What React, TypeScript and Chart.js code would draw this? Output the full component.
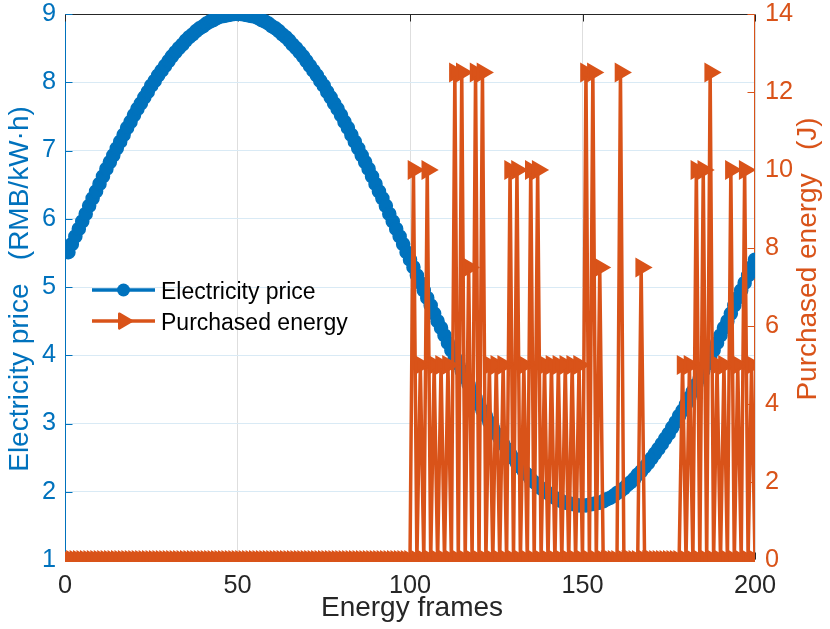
import React, { useEffect, useRef } from "react";
import { Chart, registerables } from "chart.js";

Chart.register(...registerables);

const BLUE = "#0072BD";
const ORANGE = "#D95319";
const DARK = "#262626";
const FONT = "'Liberation Sans', Arial, Helvetica, sans-serif";

// x categories: energy frame index 1..200
const frames: number[] = Array.from({ length: 200 }, (_, i) => i + 1);

const electricityPrice: number[] = [
  5.51, 5.63, 5.74, 5.85, 5.96, 6.07, 6.19, 6.30, 6.40, 6.51,
  6.62, 6.73, 6.83, 6.93, 7.03, 7.13, 7.23, 7.33, 7.42, 7.52,
  7.61, 7.69, 7.78, 7.86, 7.95, 8.02, 8.10, 8.17, 8.24, 8.31,
  8.38, 8.44, 8.50, 8.55, 8.61, 8.66, 8.70, 8.75, 8.79, 8.82,
  8.86, 8.89, 8.91, 8.94, 8.96, 8.97, 8.98, 8.99, 9.00, 9.00,
  9.00, 8.99, 8.98, 8.97, 8.96, 8.94, 8.91, 8.89, 8.86, 8.82,
  8.79, 8.75, 8.70, 8.66, 8.61, 8.55, 8.50, 8.44, 8.38, 8.31,
  8.24, 8.17, 8.10, 8.02, 7.95, 7.86, 7.78, 7.69, 7.61, 7.52,
  7.42, 7.33, 7.23, 7.13, 7.03, 6.93, 6.83, 6.73, 6.62, 6.51,
  6.40, 6.30, 6.19, 6.07, 5.96, 5.85, 5.74, 5.63, 5.51, 5.40,
  5.29, 5.17, 5.06, 4.95, 4.84, 4.73, 4.61, 4.50, 4.40, 4.29,
  4.18, 4.07, 3.97, 3.87, 3.77, 3.67, 3.57, 3.47, 3.38, 3.28,
  3.19, 3.11, 3.02, 2.94, 2.85, 2.78, 2.70, 2.63, 2.56, 2.49,
  2.42, 2.36, 2.30, 2.25, 2.19, 2.14, 2.10, 2.05, 2.01, 1.98,
  1.94, 1.91, 1.89, 1.86, 1.84, 1.83, 1.82, 1.81, 1.80, 1.80,
  1.80, 1.81, 1.82, 1.83, 1.84, 1.86, 1.89, 1.91, 1.94, 1.98,
  2.01, 2.05, 2.10, 2.14, 2.19, 2.25, 2.30, 2.36, 2.42, 2.49,
  2.56, 2.63, 2.70, 2.78, 2.85, 2.94, 3.02, 3.11, 3.19, 3.28,
  3.38, 3.47, 3.57, 3.67, 3.77, 3.87, 3.97, 4.07, 4.18, 4.29,
  4.40, 4.50, 4.61, 4.73, 4.84, 4.95, 5.06, 5.17, 5.29, 5.40,
];

const purchasedEnergy: number[] = [
  0, 0, 0, 0, 0, 0, 0, 0, 0, 0,
  0, 0, 0, 0, 0, 0, 0, 0, 0, 0,
  0, 0, 0, 0, 0, 0, 0, 0, 0, 0,
  0, 0, 0, 0, 0, 0, 0, 0, 0, 0,
  0, 0, 0, 0, 0, 0, 0, 0, 0, 0,
  0, 0, 0, 0, 0, 0, 0, 0, 0, 0,
  0, 0, 0, 0, 0, 0, 0, 0, 0, 0,
  0, 0, 0, 0, 0, 0, 0, 0, 0, 0,
  0, 0, 0, 0, 0, 0, 0, 0, 0, 0,
  0, 0, 0, 0, 0, 0, 0, 0, 0, 0,
  10, 0, 5, 0, 10, 0, 5, 0, 5, 0,
  5, 0, 12.5, 0, 12.5, 0, 7.5, 0, 12.5, 0,
  12.5, 0, 5, 0, 5, 0, 5, 0, 10, 0,
  10, 0, 5, 0, 10, 0, 10, 0, 5, 0,
  5, 0, 5, 0, 5, 0, 5, 0, 5, 0,
  12.5, 0, 12.5, 0, 7.5, 0, 0, 0, 0, 0,
  12.5, 0, 0, 0, 0, 0, 7.5, 0, 0, 0,
  0, 0, 0, 0, 0, 0, 0, 0, 5, 0,
  5, 0, 10, 0, 10, 0, 12.5, 0, 5, 0,
  5, 0, 10, 0, 5, 0, 10, 0, 5, 0,
];

const xTicks = [0, 50, 100, 150, 200];
const priceTicks = [1, 2, 3, 4, 5, 6, 7, 8, 9];
const energyTicks = [0, 2, 4, 6, 8, 10, 12, 14];

const seriesNames = ["Electricity price", "Purchased energy"];
const xTitle = "Energy frames";
const leftTitle = "Electricity price   (RMB/kW\u00B7h)";
const rightTitle = "Purchased energy   (J)";

const TICK_SIZE = 25.3;
const TITLE_SIZE = 28;
const LEGEND_SIZE = 23;

function drawTriangle(ctx: CanvasRenderingContext2D, x: number, y: number, r: number) {
  ctx.beginPath();
  ctx.moveTo(x + r, y);
  ctx.lineTo(x - r / 2, y + r * 0.866);
  ctx.lineTo(x - r / 2, y - r * 0.866);
  ctx.closePath();
}

const zeroPad = (s: any) => {
  s.paddingTop = 0;
  s.paddingBottom = 0;
  s.paddingLeft = 0;
  s.paddingRight = 0;
};

const framePlugin = {
  id: "matlabFrame",
  beforeDatasetsDraw(chart: any) {
    const { ctx, chartArea: a, scales } = chart;
    const L = Math.round(a.left) + 0.5;
    const R = Math.round(a.right) - 0.5;
    const T = Math.round(a.top) + 0.5;
    const B = Math.round(a.bottom) - 0.5;
    ctx.save();
    ctx.lineWidth = 1;
    const seg = (x1: number, y1: number, x2: number, y2: number, c: string) => {
      ctx.strokeStyle = c;
      ctx.beginPath();
      ctx.moveTo(x1, y1);
      ctx.lineTo(x2, y2);
      ctx.stroke();
    };
    seg(L, T, R, T, DARK);
    seg(L, B, R, B, DARK);
    seg(L, T, L, B, BLUE);
    seg(R, T, R, B, ORANGE);
    scales.x.ticks.forEach((t: any) => {
      const px = Math.round(scales.x.getPixelForValue(t.value)) + 0.5;
      seg(px, B, px, B - 7, DARK);
      seg(px, T, px, T + 7, DARK);
    });
    scales.y.ticks.forEach((t: any) => {
      const py = Math.round(scales.y.getPixelForValue(t.value)) + 0.5;
      seg(L, py, L + 7, py, BLUE);
    });
    scales.y1.ticks.forEach((t: any) => {
      const py = Math.round(scales.y1.getPixelForValue(t.value)) + 0.5;
      seg(R, py, R - 7, py, ORANGE);
    });
    ctx.restore();
  },
  afterDraw(chart: any) {
    const { ctx, chartArea: a } = chart;
    ctx.save();
    // axis titles
    ctx.font = `${TITLE_SIZE}px ${FONT}`;
    ctx.textAlign = "center";
    ctx.textBaseline = "alphabetic";
    ctx.fillStyle = DARK;
    ctx.fillText(xTitle, (a.left + a.right) / 2 + 2, 616);

    ctx.save();
    ctx.translate(28, 289);
    ctx.rotate(-Math.PI / 2);
    ctx.fillStyle = BLUE;
    ctx.fillText(leftTitle, 0, 0);
    ctx.restore();

    ctx.save();
    ctx.translate(816, 259);
    ctx.rotate(-Math.PI / 2);
    ctx.fillStyle = ORANGE;
    ctx.fillText(rightTitle, 0, 0);
    ctx.restore();

    // legend (no box)
    const x1 = 92, x2 = 155, xm = (x1 + x2) / 2;
    const rows = [290, 321];
    ctx.lineWidth = 3.5;
    ctx.strokeStyle = BLUE;
    ctx.beginPath();
    ctx.moveTo(x1, rows[0]);
    ctx.lineTo(x2, rows[0]);
    ctx.stroke();
    ctx.fillStyle = BLUE;
    ctx.beginPath();
    ctx.arc(xm, rows[0], 6.5, 0, Math.PI * 2);
    ctx.fill();

    ctx.strokeStyle = ORANGE;
    ctx.beginPath();
    ctx.moveTo(x1, rows[1]);
    ctx.lineTo(x2, rows[1]);
    ctx.stroke();
    ctx.fillStyle = ORANGE;
    ctx.lineWidth = 2.5;
    ctx.lineJoin = "round";
    drawTriangle(ctx, xm, rows[1], 8.5);
    ctx.fill();
    ctx.stroke();

    ctx.font = `${LEGEND_SIZE}px ${FONT}`;
    ctx.textAlign = "left";
    ctx.textBaseline = "alphabetic";
    ctx.fillStyle = "#000000";
    ctx.fillText(seriesNames[0], 161, rows[0] + 9);
    ctx.fillText(seriesNames[1], 161, rows[1] + 9);
    ctx.restore();
  },
};

export default function App() {
  const ref = useRef<HTMLCanvasElement | null>(null);

  useEffect(() => {
    if (!ref.current) return;
    const priceData = frames.map((f, i) => ({ x: f, y: electricityPrice[i] }));
    const energyData = frames.map((f, i) => ({ x: f, y: purchasedEnergy[i] }));
    const chart = new Chart(ref.current, {
      type: "line",
      data: {
        datasets: [
          {
            label: seriesNames[1],
            data: energyData,
            yAxisID: "y1",
            borderColor: ORANGE,
            backgroundColor: ORANGE,
            borderWidth: 3.5,
            pointStyle: "triangle",
            pointRotation: 90,
            pointRadius: 9,
            pointBorderWidth: 2.5,
            pointBackgroundColor: ORANGE,
            pointBorderColor: ORANGE,
            tension: 0,
            order: 0,
            clip: { left: 0, right: 0, top: 0, bottom: 2 },
          } as any,
          {
            label: seriesNames[0],
            data: priceData,
            yAxisID: "y",
            borderColor: BLUE,
            backgroundColor: BLUE,
            borderWidth: 4,
            pointStyle: "circle",
            pointRadius: 6.5,
            pointBorderWidth: 1.5,
            pointBackgroundColor: BLUE,
            pointBorderColor: BLUE,
            tension: 0,
            order: 1,
            clip: 0,
          } as any,
        ],
      },
      options: {
        animation: false,
        responsive: false,
        events: [],
        layout: { padding: { top: 14, left: 0, right: 0, bottom: 0 } },
        plugins: {
          legend: { display: false },
          tooltip: { enabled: false },
          title: { display: false },
        },
        scales: {
          x: {
            type: "linear",
            min: 0,
            max: 200,
            afterBuildTicks: (s: any) => {
              s.ticks = xTicks.map((v) => ({ value: v }));
            },
            afterFit: (s: any) => {
              s.height = 69;
              zeroPad(s);
            },
            grid: { color: "#dedede", lineWidth: 1, drawTicks: false },
            border: { display: false },
            ticks: {
              color: DARK,
              font: { family: FONT, size: TICK_SIZE },
              padding: 11,
              maxRotation: 0,
              autoSkip: false,
            },
          },
          y: {
            type: "linear",
            position: "left",
            min: 1,
            max: 9,
            afterBuildTicks: (s: any) => {
              s.ticks = priceTicks.map((v) => ({ value: v }));
            },
            afterFit: (s: any) => {
              s.width = 65;
              zeroPad(s);
            },
            grid: { color: "#d9eaf5", lineWidth: 1, drawTicks: false },
            border: { display: false },
            ticks: {
              color: BLUE,
              font: { family: FONT, size: TICK_SIZE },
              padding: 9,
              autoSkip: false,
            },
          },
          y1: {
            type: "linear",
            position: "right",
            min: 0,
            max: 14,
            afterBuildTicks: (s: any) => {
              s.ticks = energyTicks.map((v) => ({ value: v }));
            },
            afterFit: (s: any) => {
              s.width = 75;
              zeroPad(s);
            },
            grid: { display: false, drawTicks: false },
            border: { display: false },
            ticks: {
              color: ORANGE,
              font: { family: FONT, size: TICK_SIZE },
              padding: 10,
              autoSkip: false,
            },
          },
        },
      },
      plugins: [framePlugin],
    });
    return () => chart.destroy();
  }, []);

  return (
    <div style={{ position: "fixed", left: 0, top: 0, width: 830, height: 629, background: "#ffffff" }}>
      <canvas ref={ref} width={830} height={629} style={{ display: "block", width: 830, height: 629 }} />
    </div>
  );
}
